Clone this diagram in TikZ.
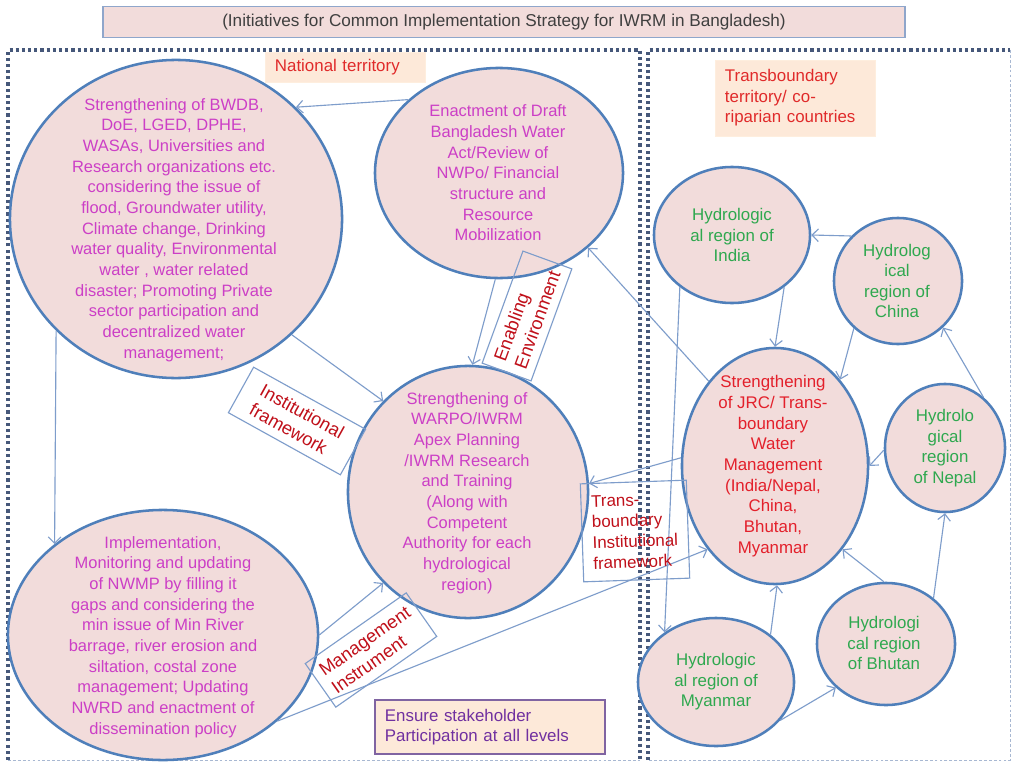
\documentclass[tikz,border=0pt]{standalone}
\usepackage{fontspec}
\setmainfont{Liberation Sans}
\usetikzlibrary{shapes.geometric, arrows.meta, positioning}

\definecolor{regionfill}{HTML}{F2DCDB}
\definecolor{ringblue}{HTML}{4F7FBA}
\definecolor{arrowblue}{HTML}{7E9DCB}
\definecolor{magtxt}{HTML}{CC3FC6}
\definecolor{jrcred}{HTML}{E3202B}
\definecolor{hydgreen}{HTML}{2FA84F}
\definecolor{tagred}{HTML}{C0101A}
\definecolor{terrred}{HTML}{E02A2A}
\definecolor{peach}{HTML}{FDE9D9}
\definecolor{framedark}{HTML}{46587A}
\definecolor{framelight}{HTML}{A8B8D2}
\definecolor{bannerline}{HTML}{8FA6CB}
\definecolor{titlegray}{HTML}{3F3F3F}
\definecolor{purpleline}{HTML}{8064A2}
\definecolor{purpletext}{HTML}{7030A0}

\begin{document}
\begin{tikzpicture}[x=0.025cm, y=-0.025cm,
  region/.style={ellipse, draw=ringblue, line width=1.8pt, fill=regionfill, inner sep=0pt},
  magtext/.style={text=magtxt, align=center, font=\fontsize{11.7}{14.7}\selectfont},
  redtext/.style={text=jrcred, align=center, font=\fontsize{12}{14.7}\selectfont},
  greentext/.style={text=hydgreen, align=center, font=\fontsize{12}{14.6}\selectfont},
  arr/.style={draw=arrowblue, line width=0.8pt, -{Straight Barb[length=4.5pt,width=9pt]}},
  tag/.style={draw=arrowblue, line width=0.8pt, text=tagred, align=left, inner sep=0pt, font=\fontsize{13}{15.5}\selectfont},
  territory/.style={fill=peach, draw=peach!80!orange!40, align=left, inner xsep=0.25cm, font=\fontsize{12}{14.6}\selectfont},
  frame/.style={draw=framedark, line width=2.2pt, dash pattern=on 2.2pt off 2.2pt},
  framelow/.style={draw=framelight, line width=0.6pt, dash pattern=on 2pt off 1.5pt}]

\fill[white] (0,0) rectangle (1012,762);
\useasboundingbox (0,0) rectangle (1012,762);

\draw[frame] (8,760) -- (8,50) -- (640,50) -- (640,760);
\draw[framelow] (8,760) -- (640,760);
\draw[frame] (648,760) -- (648,50) -- (1010,50);
\draw[framelow] (1010,50) -- (1010,760) -- (648,760);

\node[draw=bannerline, line width=1pt, fill=regionfill, minimum width=20.05cm, minimum height=0.78cm, text=titlegray, font=\fontsize{12.2}{14}\selectfont] (title) at (504,22) {(Initiatives for Common Implementation Strategy for IWRM in Bangladesh)};

\node[territory, text=terrred, text width=3.5cm, minimum height=0.75cm] (national) at (345,67) {National territory};
\node[territory, text=terrred, text width=3.5cm, minimum height=1.9cm] (trans) at (795,98) {Transboundary\\territory/ co-\\riparian countries};

\node[region, minimum width=8.3cm, minimum height=7.95cm] (bwdb) at (176,219) {};
\node[region, minimum width=6.2cm, minimum height=5.25cm] (enact) at (499,173) {};
\node[region, minimum width=6cm, minimum height=6.3cm] (warpo) at (468,492) {};
\node[region, minimum width=7.75cm, minimum height=6.25cm] (impl) at (163,635) {};
\node[region, minimum width=4.65cm, minimum height=5.9cm] (jrc) at (775,466) {};
\node[region, minimum width=3.9cm, minimum height=3.4cm] (india) at (732,235) {};
\node[region, minimum width=3.2cm, minimum height=3.15cm] (china) at (898,281) {};
\node[region, minimum width=3cm, minimum height=3.2cm] (nepal) at (945,448) {};
\node[region, minimum width=3.45cm, minimum height=3.05cm] (bhutan) at (886,644) {};
\node[region, minimum width=3.9cm, minimum height=3.2cm] (myan) at (716,682) {};

\node[magtext] (bwdbtext) at (174,230) {Strengthening of  BWDB,\\DoE, LGED, DPHE,\\WASAs, Universities and\\Research organizations etc.\\considering the issue of\\flood, Groundwater utility,\\Climate change, Drinking\\water quality, Environmental\\water , water related\\disaster; Promoting  Private\\sector participation and\\decentralized water\\management;};
\node[magtext] (enacttext) at (498,173) {Enactment of Draft\\Bangladesh Water\\Act/Review of\\NWPo/ Financial\\structure and\\Resource\\Mobilization};
\node[magtext] (warpotext) at (467,493) {Strengthening of\\WARPO/IWRM\\Apex Planning\\/IWRM Research\\and Training\\(Along with\\Competent\\Authority for each\\hydrological\\region)};
\node[magtext] (impltext) at (163,637) {Implementation,\\Monitoring and updating\\of  NWMP by filling it\\gaps and considering the\\min issue of  Min River\\barrage, river erosion and\\siltation, costal zone\\management; Updating\\NWRD and enactment of\\dissemination policy};
\node[redtext] (jrctext) at (773,466) {Strengthening\\of JRC/ Trans-\\boundary\\Water\\Management\\(India/Nepal,\\China,\\Bhutan,\\Myanmar};
\node[greentext] (indiatext) at (732,235) {Hydrologic\\al region of\\India};
\node[greentext] (chinatext) at (897,281) {Hydrolog\\ical\\region of\\China};
\node[greentext] (nepaltext) at (945,448) {Hydrolo\\gical\\region\\of Nepal};
\node[greentext] (bhutantext) at (884,643) {Hydrologi\\cal region\\of Bhutan};
\node[greentext] (myantext) at (716,682) {Hydrologic\\al region of\\Myanmar};

\draw[arr] (enact.141) -- (bwdb.43);
\draw[arr] (bwdb.223) -- (impl.140);
\draw[arr] (bwdb.-45) -- (warpo.133);
\draw[arr] (enact.268) -- (warpo.88);
\draw[arr] (jrc.175) -- (warpo.4);
\draw[arr] (impl.0) -- (warpo.227);
\draw[arr] (impl.-37) -- (jrc.231);
\draw[arr] (jrc.128) -- (enact.-40);
\draw[arr] (india.225) -- (myan.136);
\draw[arr] (india.-45) -- (jrc.90);
\draw[arr] (china.136) -- (india.0);
\draw[arr] (china.227) -- (jrc.53);
\draw[arr] (nepal.53) -- (china.-46);
\draw[arr] (nepal.182) -- (jrc.0);
\draw[arr] (bhutan.44) -- (nepal.270);
\draw[arr] (bhutan.92) -- (jrc.-51);
\draw[arr] (myan.41) -- (jrc.271);
\draw[arr] (myan.-31) -- (bhutan.221);

\node[tag, rotate=-29, minimum width=3.2cm, minimum height=1.3cm] (inst) at (297,421) {Institutional\\framework};
\node[tag, rotate=70, minimum width=2.98cm, minimum height=1.3cm] (enabling) at (527,316) {Enabling\\Environment};
\node[tag, rotate=35, minimum width=3.08cm, minimum height=1.33cm] (mgmt) at (371,650) {Management\\Instrument};
\node[tag, rotate=2, minimum width=2.65cm, minimum height=2.45cm, font=\fontsize{12}{14.7}\selectfont] (tbinst) at (635,531) {Trans-\\boundary\\Institutional\\framework};

\node[territory, draw=purpleline, line width=0.8pt, text=purpletext, text width=5.25cm, minimum height=1.35cm] (ensure) at (490,727) {Ensure stakeholder\\Participation at all levels};

\end{tikzpicture}
\end{document}
